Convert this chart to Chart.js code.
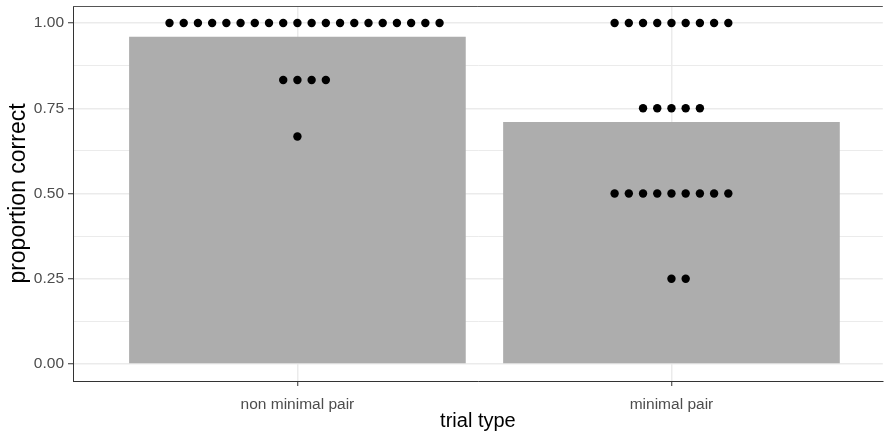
<!DOCTYPE html>
<html>
<head>
<meta charset="utf-8">
<script src="https://cdn.jsdelivr.net/npm/chart.js@4/dist/chart.umd.min.js"></script>
<style>
  html, body { margin: 0; padding: 0; background: #ffffff; overflow: hidden; }
  #wrap { width: 887px; height: 439px; }
</style>
</head>
<body>
<div id="wrap"><canvas id="chart" width="887" height="439"></canvas></div>
<script>
// Trial types and the mean proportion correct for each
const categories = ['non minimal pair', 'minimal pair'];
const meanCorrect = [0.96, 0.71];

// Per-participant scores: distinct proportion-correct levels and how many participants scored each
const nonMinimalLevels = [1.00, 0.833, 0.667];
const nonMinimalCounts = [20, 4, 1];
const minimalLevels = [1.00, 0.75, 0.50, 0.25];
const minimalCounts = [9, 5, 9, 2];

// Axis ticks
const yTickValues = [0, 0.25, 0.5, 0.75, 1];
const yTickLabels = ['0.00', '0.25', '0.50', '0.75', '1.00'];
const yMinorValues = [0.125, 0.375, 0.625, 0.875];

// Dot-plot stacking: dots in the same bin are laid out side by side
const DOT_STEP = 0.038; // horizontal spacing in category units
function stackDots(position, levels, counts) {
  const pts = [];
  levels.forEach((level, i) => {
    const n = counts[i];
    const first = -Math.floor((n - 1) / 2);
    for (let j = 0; j < n; j++) {
      pts.push({ x: position + (first + j) * DOT_STEP, y: level });
    }
  });
  return pts;
}

const dots = [
  ...stackDots(1, nonMinimalLevels, nonMinimalCounts),
  ...stackDots(2, minimalLevels, minimalCounts)
];
const bars = meanCorrect.map((v, i) => ({ x: i + 1, y: v }));

const yGridValues = [...yTickValues, ...yMinorValues].sort((a, b) => a - b);
const isMajor = v => yTickValues.indexOf(v) >= 0;

// Outline the top of the panel like the other panel edges
const panelBorder = {
  id: 'panelBorder',
  afterDatasetsDraw(chart) {
    const { ctx, chartArea } = chart;
    ctx.save();
    ctx.strokeStyle = '#555555';
    ctx.lineWidth = 1;
    ctx.beginPath();
    ctx.moveTo(chartArea.left, chartArea.top + 0.5);
    ctx.lineTo(chartArea.right, chartArea.top + 0.5);
    ctx.stroke();
    ctx.restore();
  }
};

new Chart(document.getElementById('chart'), {
  type: 'bar',
  data: {
    datasets: [
      {
        type: 'scatter',
        data: dots,
        pointRadius: 4.2,
        pointHoverRadius: 4.2,
        pointBackgroundColor: '#000000',
        pointBorderWidth: 0,
        order: 0
      },
      {
        type: 'bar',
        data: bars,
        backgroundColor: '#adadad',
        borderWidth: 0,
        barPercentage: 0.9,
        categoryPercentage: 1.0,
        order: 1
      }
    ]
  },
  options: {
    responsive: false,
    animation: false,
    layout: { padding: { top: 6, left: 0, right: 0, bottom: 0 } },
    plugins: {
      legend: { display: false },
      tooltip: { enabled: false }
    },
    scales: {
      x: {
        type: 'linear',
        min: 0.4,
        max: 2.565,
        offset: false,
        afterFit(scale) {
          scale.height = 58;
          scale.paddingLeft = 0;
          scale.paddingRight = 0;
        },
        afterBuildTicks(scale) { scale.ticks = [{ value: 1 }, { value: 2 }]; },
        ticks: {
          autoSkip: false,
          maxRotation: 0,
          padding: 9,
          color: '#4d4d4d',
          font: { family: 'Liberation Sans, Arial, sans-serif', size: 15.5 },
          callback: (value, index) => categories[index]
        },
        grid: {
          offset: false,
          color: '#ebebeb',
          lineWidth: 1.5,
          tickColor: '#333333',
          tickWidth: 1,
          tickLength: 5
        },
        border: { display: true, color: '#333333', width: 1 },
        title: {
          display: true,
          text: 'trial type',
          color: '#000000',
          font: { family: 'Liberation Sans, Arial, sans-serif', size: 20 },
          padding: { top: 0, bottom: 6 }
        }
      },
      y: {
        type: 'linear',
        min: -0.05,
        max: 1.05,
        afterFit(scale) {
          scale.width = 73;
          scale.paddingTop = 0;
          scale.paddingBottom = 0;
        },
        afterBuildTicks(scale) { scale.ticks = yGridValues.map(v => ({ value: v })); },
        ticks: {
          autoSkip: false,
          padding: 4,
          color: '#4d4d4d',
          font: { family: 'Liberation Sans, Arial, sans-serif', size: 15.5 },
          callback: value => {
            const i = yTickValues.indexOf(value);
            return i >= 0 ? yTickLabels[i] : '';
          }
        },
        grid: {
          color: '#ebebeb',
          lineWidth: ctx => (ctx.tick && isMajor(ctx.tick.value) ? 1.5 : 1),
          tickColor: ctx => (ctx.tick && isMajor(ctx.tick.value) ? '#333333' : 'rgba(0,0,0,0)'),
          tickWidth: 1,
          tickLength: 5
        },
        border: { display: true, color: '#333333', width: 1 },
        title: {
          display: true,
          text: 'proportion correct',
          color: '#000000',
          font: { family: 'Liberation Sans, Arial, sans-serif', size: 23 },
          padding: { top: 5, bottom: 0 }
        }
      }
    }
  },
  plugins: [panelBorder]
});
</script>
</body>
</html>
